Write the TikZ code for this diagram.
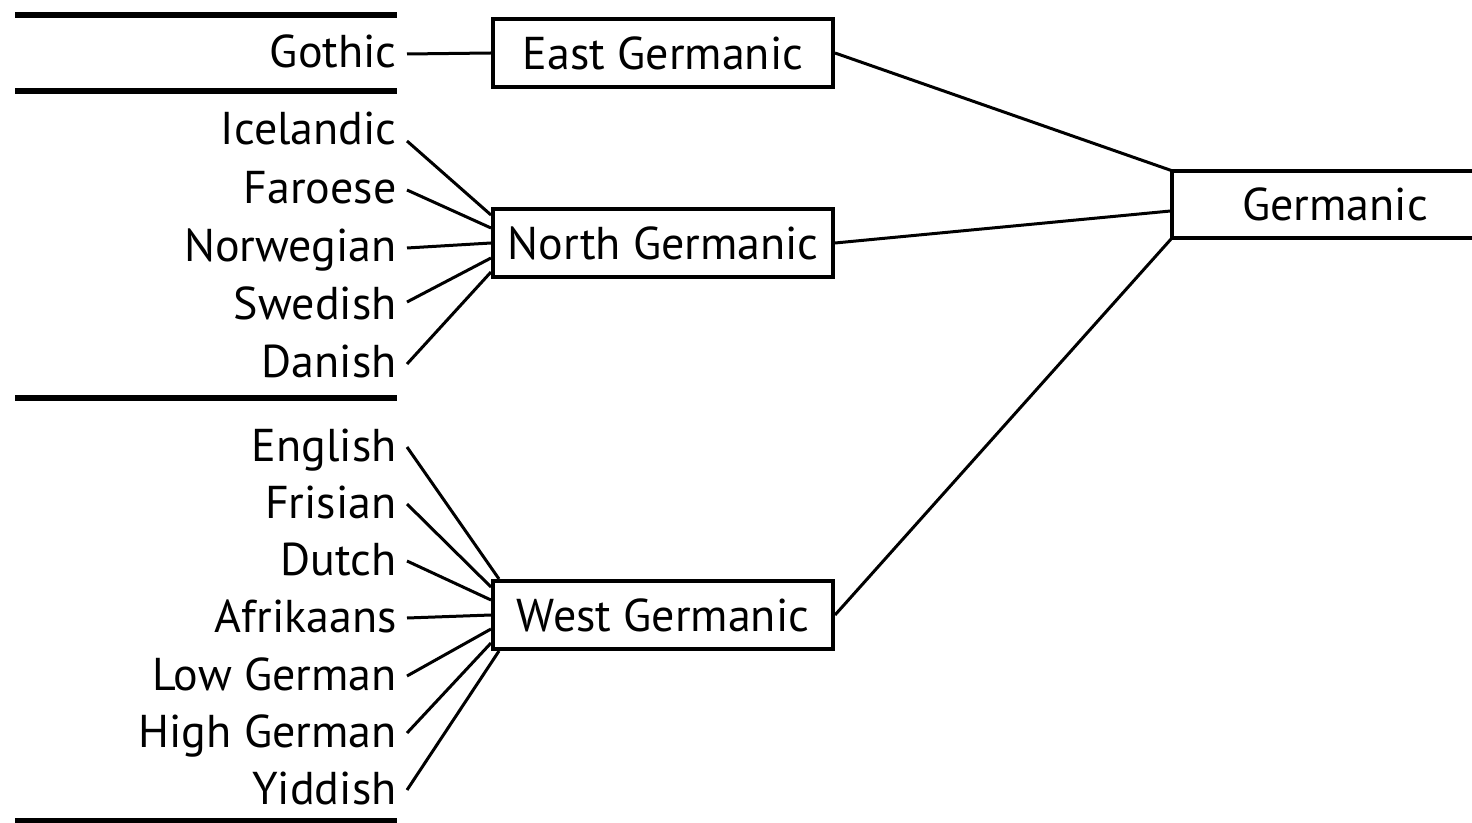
\documentclass[tikz,border=0pt]{standalone}
\usepackage{fontspec}
\setmainfont{PT Sans}
\begin{document}
\begin{tikzpicture}[x=0.5pt,y=-0.5pt,
  txt/.style={font=\fontsize{23}{27}\selectfont},
  lang/.style={txt, anchor=base east, inner sep=0pt, text height=16pt, text depth=2pt},
  branch/.style={txt, draw, line width=2pt, inner sep=0pt, minimum width=170pt, minimum height=34pt},
  rule/.style={line width=2.6pt},
  link/.style={line width=1.5pt}]
\useasboundingbox (0,0) rectangle (1472,823);

% separator rules
\draw[rule] (15,15) -- (397,15);
\draw[rule] (15,91) -- (397,91);
\draw[rule] (15,398) -- (397,398);
\draw[rule] (15,821) -- (397,821);

% branch boxes
\node[branch] (eg) at (663,53) {East Germanic};
\node[branch] (ng) at (663,243) {North Germanic};
\node[branch] (wg) at (663,615) {West Germanic};

% Germanic (open at the right)
\node[txt, inner sep=0pt, minimum width=163pt, minimum height=33.5pt] (gm) at (1335,204.5) {Germanic};
\draw[line width=2pt] (gm.north east) -- (gm.north west) -- (gm.south west) -- (gm.south east);

% languages
\node[lang] (got) at (397,68) {Gothic};
\node[lang] (ice) at (397,145) {Icelandic};
\node[lang] (far) at (397,204) {Faroese};
\node[lang] (nor) at (397,262) {Norwegian};
\node[lang] (swe) at (397,320) {Swedish};
\node[lang] (dan) at (397,378) {Danish};
\node[lang] (eng) at (397,461) {English};
\node[lang] (fri) at (397,518) {Frisian};
\node[lang] (dut) at (397,575) {Dutch};
\node[lang] (afr) at (397,632) {Afrikaans};
\node[lang] (low) at (397,690) {Low German};
\node[lang] (hig) at (397,747) {High German};
\node[lang] (yid) at (397,804) {Yiddish};

% East
\draw[link] ([xshift=5pt]got.east) -- (eg.west);

% North
\draw[link] ([xshift=5pt,yshift=-5pt]ice.east) -- ([yshift=14pt]ng.west);
\draw[link] ([xshift=5pt]far.east) -- ([yshift=7.5pt]ng.west);
\draw[link] ([xshift=5pt]nor.east) -- (ng.west);
\draw[link] ([xshift=5pt,yshift=2pt]swe.east) -- ([yshift=-7.5pt]ng.west);
\draw[link] ([xshift=5pt]dan.east) -- ([yshift=-14.5pt]ng.west);

% West
\draw[link] ([xshift=5pt]eng.east) -- ([xshift=4pt]wg.north west);
\draw[link] ([xshift=5pt]fri.east) -- ([yshift=14pt]wg.west);
\draw[link] ([xshift=5pt]dut.east) -- ([yshift=7.5pt]wg.west);
\draw[link] ([xshift=5pt]afr.east) -- (wg.west);
\draw[link] ([xshift=5pt]low.east) -- ([yshift=-7pt]wg.west);
\draw[link] ([xshift=5pt]hig.east) -- ([yshift=-14pt]wg.west);
\draw[link] ([xshift=5pt]yid.east) -- ([xshift=4pt]wg.south west);

% to Germanic
\draw[link] (eg.east) -- (gm.north west);
\draw[link] (ng.east) -- ([yshift=-3.2pt]gm.west);
\draw[link] (wg.east) -- (gm.south west);
\end{tikzpicture}
\end{document}
